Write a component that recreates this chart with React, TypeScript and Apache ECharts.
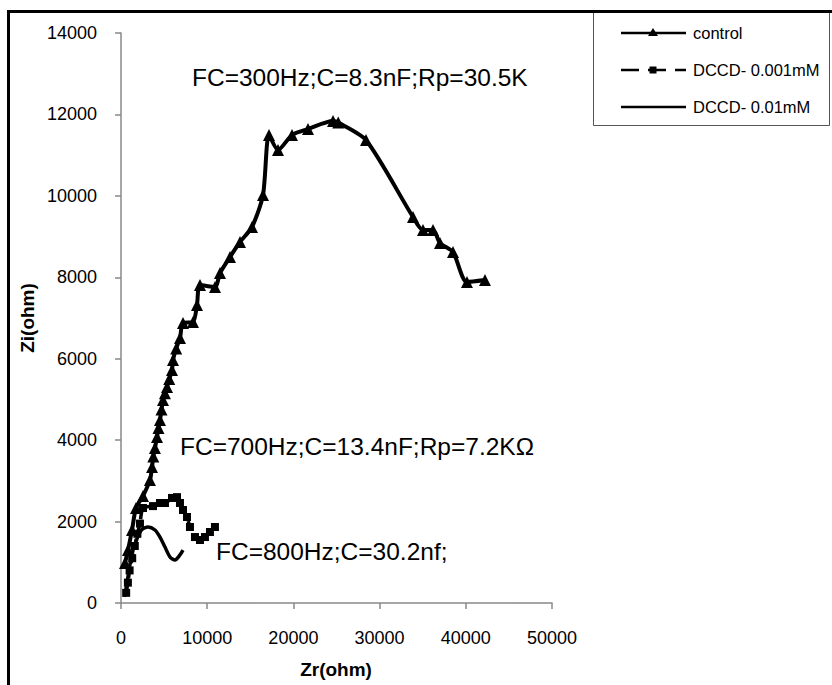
import React, { useEffect, useRef } from "react";
import * as echarts from "echarts";

const seriesNames = ["control", "DCCD- 0.001mM", "DCCD- 0.01mM"];

const controlZr = [464, 812, 1276, 1740, 2550, 3360, 3600, 3750, 3940, 4176, 4350, 4524, 4700, 4872, 5100, 5336, 5600, 5916, 6032, 6400, 6844, 7192, 8352, 8816, 9164, 10904, 11484, 12644, 13804, 15196, 16472, 17168, 18212, 19836, 21692, 24592, 25200, 28420, 33872, 35032, 36192, 37004, 38512, 40136, 42224];
const controlZi = [982, 1300, 1790, 2333, 2628, 3021, 3340, 3600, 3807, 4077, 4300, 4494, 4750, 4986, 5150, 5305, 5500, 5722, 5968, 6250, 6508, 6877, 6900, 7319, 7810, 7761, 8105, 8498, 8866, 9235, 10020, 11494, 11126, 11494, 11641, 11838, 11800, 11371, 9480, 9161, 9161, 8842, 8621, 7884, 7933];

const dccd001Zr = [600, 800, 1000, 1300, 1600, 1900, 2200, 2550, 3710, 4520, 5100, 5916, 6500, 6840, 7190, 7660, 8000, 8580, 9160, 9740, 10320, 10900];
const dccd001Zi = [250, 500, 800, 1100, 1400, 1700, 1950, 2333, 2380, 2456, 2456, 2580, 2600, 2456, 2284, 2112, 1866, 1620, 1547, 1620, 1744, 1866];

const dccd01Zr = [400, 700, 1000, 1400, 1900, 2400, 3130, 3940, 4520, 5100, 5680, 6260, 6840, 7190];
const dccd01Zi = [150, 500, 900, 1300, 1600, 1800, 1866, 1793, 1620, 1375, 1130, 1056, 1180, 1300];

const xTicks = { min: 0, max: 50000, interval: 10000 };
const yTicks = { min: 0, max: 14000, interval: 2000 };

const annotations = [
  "FC=300Hz;C=8.3nF;Rp=30.5K",
  "FC=700Hz;C=13.4nF;Rp=7.2KΩ",
  "FC=800Hz;C=30.2nf;",
];

const zip = (a: number[], b: number[]) => a.map((v, i) => [v, b[i]]);

const FONT = "'Liberation Sans', Arial, sans-serif";

export default function App() {
  const ref = useRef<HTMLDivElement>(null);
  useEffect(() => {
    document.body.style.margin = "0";
    const chart = echarts.init(ref.current!, undefined, { renderer: "svg" });
    const axisCommon = {
      axisLine: { show: true, lineStyle: { color: "#888", width: 1.5 } },
      axisTick: { show: true, inside: false, length: 6, lineStyle: { color: "#888", width: 1.5 } },
      splitLine: { show: false },
    };
    chart.setOption({
      animation: false,
      backgroundColor: "#fff",
      textStyle: { fontFamily: FONT },
      grid: { left: 121, right: 280, top: 33, bottom: 82, containLabel: false },
      xAxis: {
        type: "value",
        ...xTicks,
        ...axisCommon,
        axisLabel: { fontSize: 18, color: "#000", margin: 26, fontFamily: FONT, formatter: (v: number) => String(v) },
      },
      yAxis: {
        type: "value",
        ...yTicks,
        ...axisCommon,
        axisLabel: { fontSize: 18, color: "#000", margin: 24, fontFamily: FONT, formatter: (v: number) => String(v) },
      },
      series: [
        {
          name: seriesNames[0],
          type: "line",
          data: zip(controlZr, controlZi),
          smooth: 0.25,
          symbol: "triangle",
          symbolSize: 12,
          lineStyle: { color: "#000", width: 4 },
          itemStyle: { color: "#000" },
          z: 3,
        },
        {
          name: seriesNames[1],
          type: "line",
          data: zip(dccd001Zr, dccd001Zi),
          smooth: 0.25,
          symbol: "rect",
          symbolSize: 8,
          lineStyle: { color: "#000", width: 3.5, type: [10, 5] },
          itemStyle: { color: "#000" },
          z: 2,
        },
        {
          name: seriesNames[2],
          type: "line",
          data: zip(dccd01Zr, dccd01Zi),
          smooth: 0.25,
          symbol: "none",
          lineStyle: { color: "#000", width: 3.5 },
          itemStyle: { color: "#000" },
          z: 2,
        },
      ],
      graphic: [
        {
          type: "rect",
          shape: { x: 8.5, y: 11.5, width: 1000, height: 1000 },
          style: { fill: "none", stroke: "#000", lineWidth: 3 },
          z: 1,
        },
        {
          type: "rect",
          shape: { x: 593.5, y: 12.5, width: 236, height: 113 },
          style: { fill: "#fff", stroke: "#555", lineWidth: 1 },
          z: 5,
        },
        {
          type: "line",
          shape: { x1: 593, y1: 11.5, x2: 832, y2: 11.5 },
          style: { stroke: "#000", lineWidth: 3 },
          z: 6,
        },
        // legend row 1
        { type: "line", shape: { x1: 621, y1: 33, x2: 686, y2: 33 }, style: { stroke: "#000", lineWidth: 2.5 }, z: 6 },
        { type: "polygon", shape: { points: [[653, 28], [658, 36], [648, 36]] }, style: { fill: "#000" }, z: 7 },
        { type: "text", x: 693, y: 33, style: { text: seriesNames[0], fontSize: 16.5, fontFamily: FONT, fill: "#000", verticalAlign: "middle" }, z: 7 },
        // legend row 2
        { type: "line", shape: { x1: 621, y1: 70, x2: 686, y2: 70 }, style: { stroke: "#000", lineWidth: 2.5, lineDash: [18, 9] }, z: 6 },
        { type: "rect", shape: { x: 649.5, y: 66.5, width: 7, height: 7 }, style: { fill: "#000" }, z: 7 },
        { type: "text", x: 693, y: 70, style: { text: seriesNames[1], fontSize: 16.5, fontFamily: FONT, fill: "#000", verticalAlign: "middle" }, z: 7 },
        // legend row 3
        { type: "line", shape: { x1: 621, y1: 107, x2: 686, y2: 107 }, style: { stroke: "#000", lineWidth: 2.5 }, z: 6 },
        { type: "text", x: 693, y: 107, style: { text: seriesNames[2], fontSize: 16.5, fontFamily: FONT, fill: "#000", verticalAlign: "middle" }, z: 7 },
        // annotations
        { type: "text", x: 192, y: 77, style: { text: annotations[0], fontSize: 24.5, fontFamily: FONT, fill: "#000", verticalAlign: "middle" }, z: 7 },
        { type: "text", x: 180, y: 446, style: { text: annotations[1], fontSize: 24.5, fontFamily: FONT, fill: "#000", verticalAlign: "middle" }, z: 7 },
        { type: "text", x: 216, y: 551, style: { text: annotations[2], fontSize: 24.5, fontFamily: FONT, fill: "#000", verticalAlign: "middle" }, z: 7 },
        // axis names
        { type: "text", x: 336, y: 669, style: { text: "Zr(ohm)", fontSize: 19, fontWeight: "bold", fontFamily: FONT, fill: "#000", align: "center", verticalAlign: "middle" }, z: 7 },
        { type: "text", x: 27, y: 318, rotation: Math.PI / 2, style: { text: "Zi(ohm)", fontSize: 19, fontWeight: "bold", fontFamily: FONT, fill: "#000", align: "center", verticalAlign: "middle" }, z: 7 },
      ],
    });
    return () => chart.dispose();
  }, []);
  return <div ref={ref} style={{ width: 832, height: 685 }} />;
}
